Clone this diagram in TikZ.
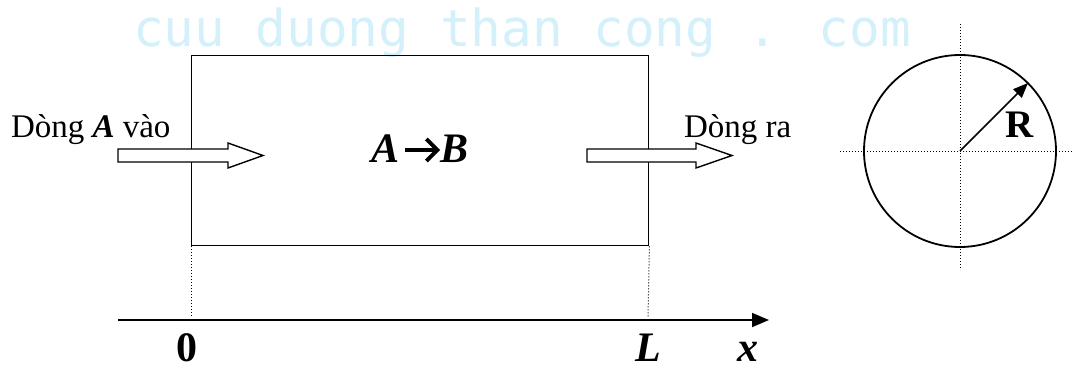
\documentclass[tikz,border=0pt]{standalone}
\usepackage{fontspec}
\setmainfont{Liberation Serif}
\newfontfamily\wmfont{DejaVu Sans Mono}
\usetikzlibrary{arrows.meta}
\definecolor{wm}{RGB}{212,240,251}
\tikzset{
  hollow/.style={draw=black,line width=1.4pt,fill=white,line join=miter},
  guide/.style={line width=1pt,dotted},
  lbl/.style={inner sep=0pt,outer sep=0pt},
  axlbl/.style={lbl,anchor=base,text depth=0pt,font=\fontsize{42}{42}\selectfont\bfseries},
  flow/.style={lbl,anchor=base west,font=\fontsize{33}{33}\selectfont},
  react/.style={lbl,font=\fontsize{42}{42}\selectfont\bfseries\itshape},
}
\begin{document}
\begin{tikzpicture}[x=1pt,y=-1pt]
\useasboundingbox (0,0) rectangle (1072,370);
% watermark
\node[lbl,anchor=base west,text=wm,font=\wmfont\fontsize{51}{51}\selectfont] (wm) at (133,46) {cuu duong than cong . com};
% reactor box
\node[draw,line width=1.4pt,minimum width=457pt,minimum height=190pt,inner sep=0pt,anchor=north west] (box) at (191,55) {};
% dotted guides down to axis
\coordinate (z) at (191,318);
\coordinate (l) at (648,318);
\draw[guide] (box.south west) -- (z);
\draw[guide] (box.south east) -- (l);
% axis
\coordinate (ax0) at (118,320);
\coordinate (ax1) at (769,320);
\draw[line width=1.8pt,-{Triangle[length=17pt,width=14pt]}] (ax0) -- (ax1);
\node[axlbl] (n0) at (187,361) {0};
\node[axlbl,font=\fontsize{42}{42}\selectfont\bfseries\itshape] (nL) at (648,361) {L};
\node[axlbl,font=\fontsize{42}{42}\selectfont\bfseries\itshape] (nx) at (748,361) {x};
% hollow arrows
\draw[hollow] (118,149) -- (228,149) -- (228,143) -- (263,155.5) -- (228,168) -- (228,162) -- (118,162) -- cycle;
\draw[hollow] (587,149) -- (696,149) -- (696,143) -- (732,155.5) -- (696,168) -- (696,162) -- (587,162) -- cycle;
% texts
\node[flow] (in) at (11,137) {Dòng \textbf{\textit{A}} vào};
\node[flow] (out) at (684,137) {Dòng ra};
\node[react,anchor=base west] (ra) at (371,162) {A};
\node[react,anchor=base east] (rb) at (469,162) {B};
\draw[line width=3.8pt,-{Straight Barb[length=11pt,width=22pt,line width=3.8pt]}] (405,150) -- (440,150);
% cross-section
\coordinate (c) at (960,151);
\coordinate (hl) at (840,151);
\coordinate (hr) at (1072,151);
\coordinate (vt) at (960,24);
\coordinate (vb) at (960,270);
\coordinate (rt) at (1028,83);
\draw[guide] (hl) -- (hr);
\draw[guide] (vt) -- (vb);
\draw[line width=1.8pt] (c) circle (96);
\draw[line width=1.6pt,-{Triangle[length=15pt,width=12pt]}] (c) -- (rt);
\node[lbl,anchor=base,font=\fontsize{39}{39}\selectfont\bfseries] (R) at (1019.5,137) {R};
\end{tikzpicture}
\end{document}
